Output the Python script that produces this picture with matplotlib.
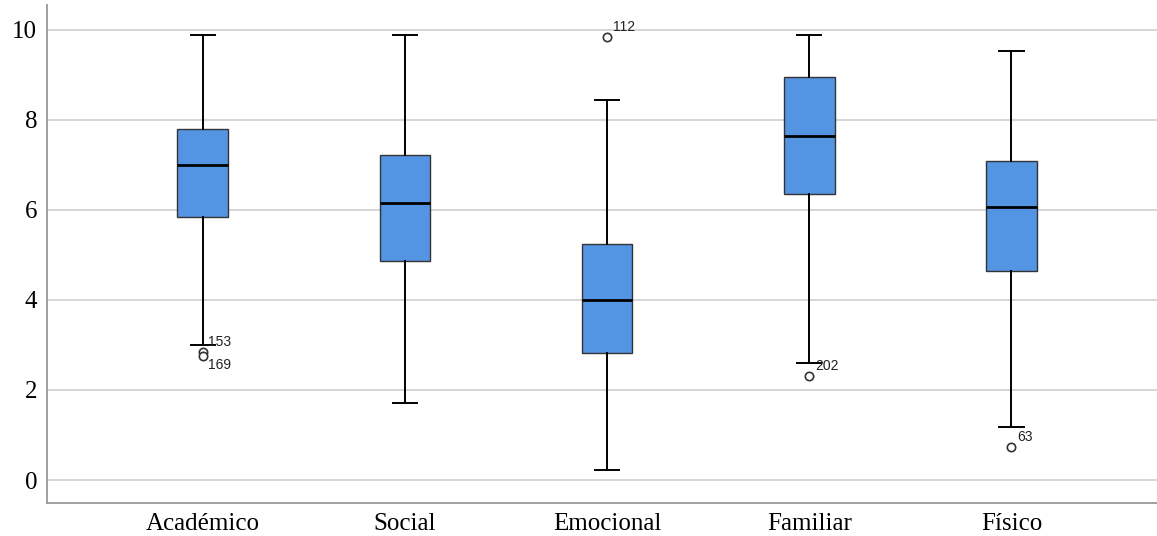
import matplotlib
matplotlib.use("Agg")
import matplotlib.pyplot as plt

categories = ["Académico", "Social", "Emocional", "Familiar", "Físico"]
whisker_low = [3.00, 1.71, 0.22, 2.60, 1.18]
q1 = [5.84, 4.87, 2.82, 6.36, 4.64]
medians = [7.00, 6.16, 4.00, 7.64, 6.07]
q3 = [7.80, 7.22, 5.24, 8.96, 7.09]
whisker_high = [9.89, 9.89, 8.44, 9.89, 9.53]
outliers = [[2.85, 2.75], [], [9.84], [2.31], [0.73]]
outlier_ids = [["153", "169"], [], ["112"], ["202"], ["63"]]
yticks = [0, 2, 4, 6, 8, 10]

fig = plt.figure(figsize=(11.57, 5.36), dpi=100)
ax = fig.add_axes([0.0406, 0.0616, 0.9594, 0.929])

stats = []
for i, c in enumerate(categories):
    stats.append(dict(label=c, whislo=whisker_low[i], q1=q1[i], med=medians[i],
                      q3=q3[i], whishi=whisker_high[i], fliers=outliers[i]))

positions = list(range(1, len(categories) + 1))
ax.bxp(stats, positions=positions, widths=0.25, patch_artist=True,
       boxprops=dict(facecolor="#5495E3", edgecolor="#333333", linewidth=1.0),
       medianprops=dict(color="black", linewidth=2.0),
       whiskerprops=dict(color="black", linewidth=1.4),
       capprops=dict(color="black", linewidth=1.4),
       capwidths=0.12,
       flierprops=dict(marker="o", markersize=6, markerfacecolor="white",
                       markeredgecolor="#333333", markeredgewidth=1.2),
       zorder=3)

for i, (vals, ids) in enumerate(zip(outliers, outlier_ids)):
    for v, lab in zip(vals, ids):
        if lab == "169":
            off, va = (4, -1), "top"
        else:
            off, va = (4, 2), "bottom"
        ax.annotate(lab, (positions[i], v), xytext=off, textcoords="offset points",
                    fontsize=10, family="Liberation Sans", color="#222222",
                    ha="left", va=va, zorder=4)

ax.set_xlim(0.23, 5.72)
ax.set_ylim(-0.51, 10.55)
ax.set_yticks(yticks)
ax.set_xticks(positions)
ax.set_xticklabels(categories)
ax.yaxis.grid(True, color="#d0d0d0", linewidth=1.2)
ax.set_axisbelow(True)
for lab in ax.get_xticklabels() + ax.get_yticklabels():
    lab.set_family("Liberation Serif")
    lab.set_fontsize(18)
ax.tick_params(axis="x", length=0, pad=7)
ax.tick_params(axis="y", length=0, pad=7)
ax.spines["top"].set_visible(False)
ax.spines["right"].set_visible(False)
ax.spines["left"].set_color("#999999")
ax.spines["bottom"].set_color("#999999")
ax.spines["left"].set_linewidth(1.3)
ax.spines["bottom"].set_linewidth(1.3)

fig.savefig("out.png", dpi=100)
